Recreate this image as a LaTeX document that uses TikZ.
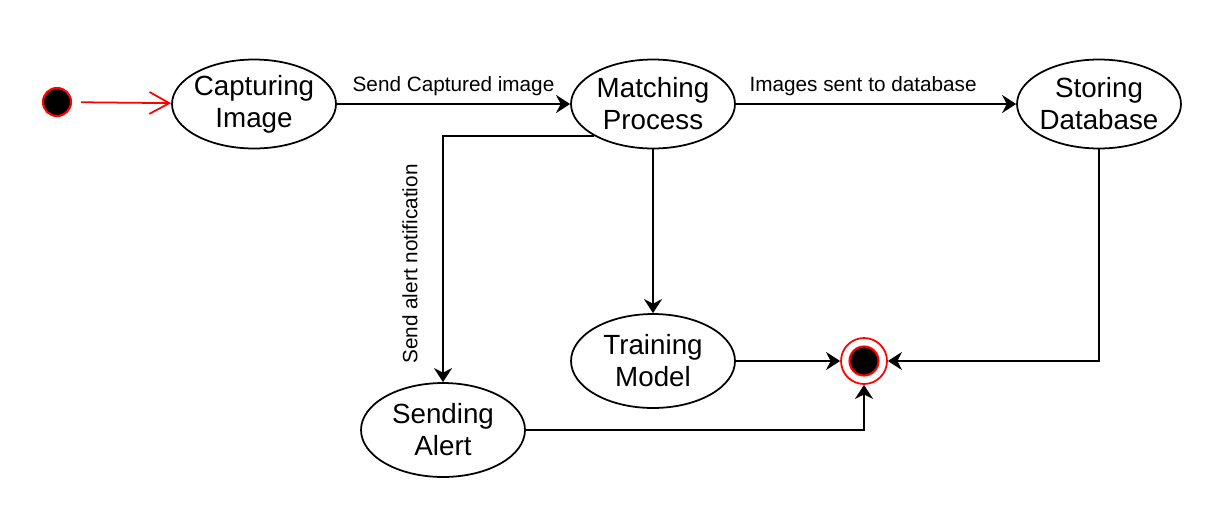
\documentclass[tikz,border=0pt]{standalone}
\usepackage{fontspec}
\setmainfont{Liberation Sans}
\usetikzlibrary{arrows.meta,positioning,shapes.geometric}

\begin{document}
\begin{tikzpicture}[
    x=0.02cm,
    y=-0.02cm,
    >={Stealth[length=2.8mm,width=3.6mm,inset=0.9mm]},
    state/.style={
        ellipse,
        draw=black,
        line width=1pt,
        fill=white,
        minimum width=3.28cm,
        minimum height=1.78cm,
        inner sep=-0.4cm,
        align=center,
        font=\fontsize{15.8}{18.2}\selectfont
    },
    initstate/.style={
        circle,
        fill=black,
        draw=red,
        line width=1.2pt,
        minimum size=0.56cm,
        inner sep=0pt
    },
    finalring/.style={
        circle,
        draw=red,
        line width=1pt,
        minimum size=0.92cm,
        inner sep=0pt
    },
    finaldot/.style={
        circle,
        fill=black,
        draw=red,
        line width=1.2pt,
        minimum size=0.58cm,
        inner sep=0pt
    },
    arrow/.style={
        ->,
        draw=black,
        line width=1pt
    },
    startarrow/.style={
        -{Straight Barb[length=4mm,width=4.4mm]},
        draw=red,
        line width=1pt,
        shorten <=0.18cm
    },
    elabel/.style={
        font=\fontsize{11.8}{14}\selectfont,
        text=black
    }
]

\useasboundingbox (0,0) rectangle (1222,508);

\node[initstate] (start) at (57,102) {};
\node[state] (cap) at (254,104) {Capturing\\Image};
\node[state] (match) at (653,104) {Matching\\Process};
\node[state] (store) at (1099,104) {Storing\\Database};
\node[state, minimum height=1.88cm] (train) at (653,361) {Training\\Model};
\node[state, minimum height=1.88cm] (alert) at (443,430) {Sending\\Alert};
\node[finalring] (end) at (864,361) {};
\node[finaldot] (enddot) at (end) {};

\draw[startarrow] (start) -- (cap);
\draw[arrow] (cap) -- node[elabel, above=1pt] {Send Captured image} (match);
\draw[arrow] (match) -- node[elabel, above=1pt, pos=0.454] {Images sent to database} (store);
\draw[arrow] (match.south west) -| (alert);
\node[elabel, rotate=90] (alertlabel) at (410,264) {Send alert notification};
\draw[arrow] (match) -- (train);

\draw[arrow] (train) -- (end);
\draw[arrow] (store) |- (end);
\draw[arrow] (alert) -| (end);

\end{tikzpicture}
\end{document}
